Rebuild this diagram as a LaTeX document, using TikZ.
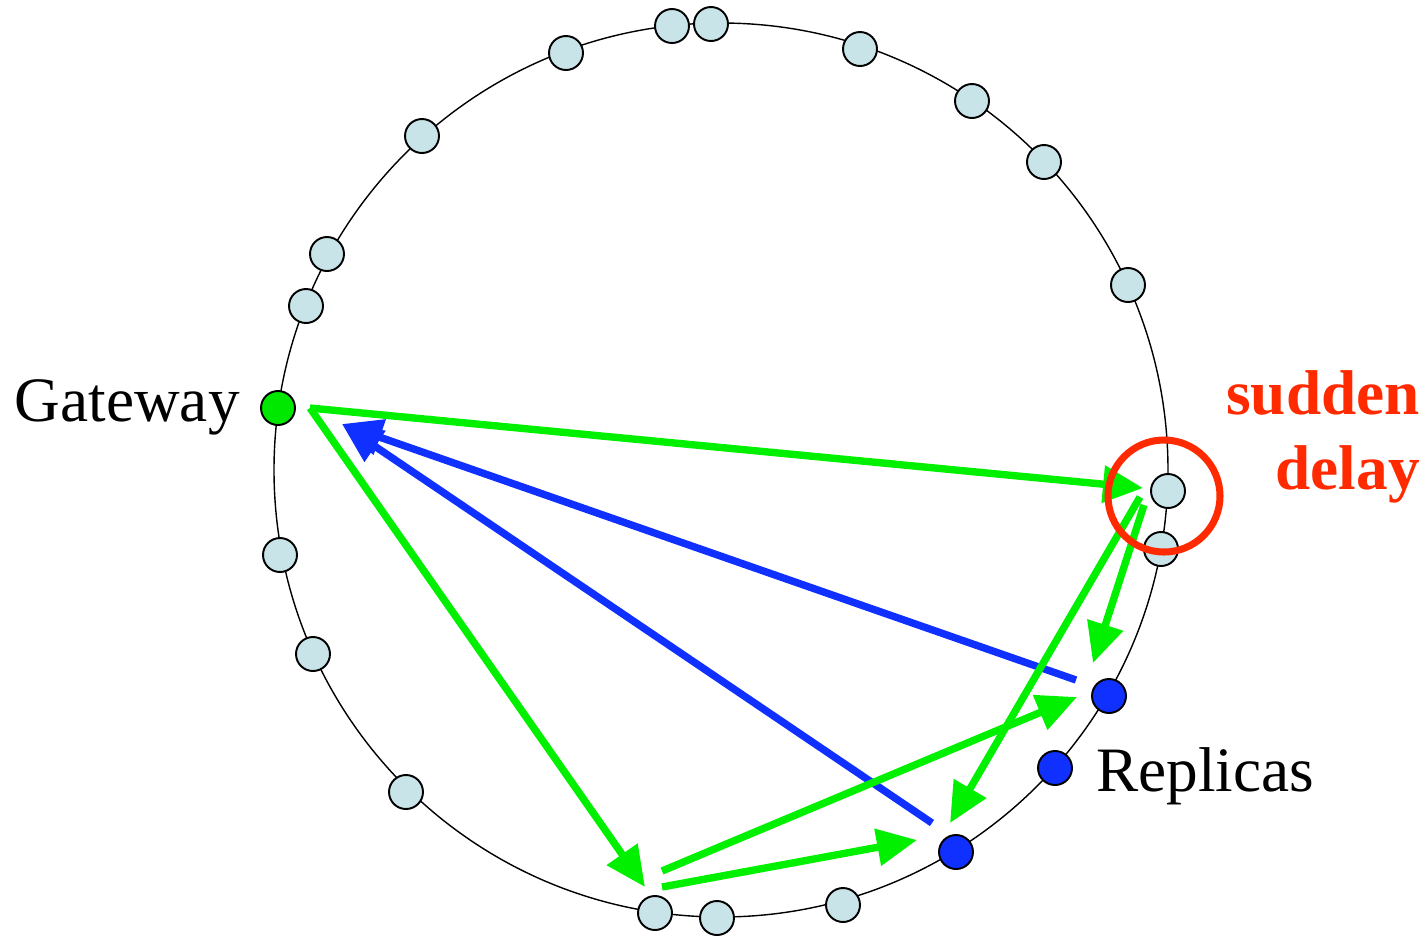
\documentclass[tikz,border=0pt]{standalone}
\usepackage{fontspec}
\setmainfont{Liberation Serif}
\usetikzlibrary{arrows.meta,calc}

\definecolor{peerfill}{RGB}{200,228,232}
\definecolor{replblue}{RGB}{16,48,255}
\definecolor{gwgreen}{RGB}{0,232,0}
\definecolor{linkgreen}{RGB}{0,240,0}
\definecolor{alertred}{RGB}{255,42,0}

\begin{document}
\begin{tikzpicture}[x=0.02cm,y=-0.02cm,
    peer/.style={circle,draw,line width=1.1pt,fill=peerfill,minimum size=0.68cm,inner sep=0pt},
    replica/.style={peer,fill=replblue},
    req/.style={draw=linkgreen,line width=4.2pt,-{Triangle[length=0.8cm,width=0.72cm]}},
    resp/.style={req,draw=replblue},
    lbl/.style={font=\fontsize{36}{43}\selectfont,inner sep=0pt},
    alert/.style={lbl,font=\fontsize{36}{43}\selectfont\bfseries,text=alertred}]
    \useasboundingbox (0,0) rectangle (1428,938);
    % the ring
    \draw[line width=0.8pt] (721,470) circle (447);
    \foreach \x/\y [count=\i] in {672/26,711/24,566/53,860/49,972/101,422/136,1044/162,327/254,
      306/306,1128/285,1161/549,280/555,313/654,406/792,843/905,717/918}
    \node[peer] (p\i) at (\x,\y) {};
    \node[peer] (dly) at (1168,491) {};
    \node[peer] (bot) at (655,913) {};
    \node[peer,fill=gwgreen] (gw) at (278,408) {};
    \node[replica] (r1) at (1109,696) {};
    \node[replica] (r2) at (1055,768) {};
    \node[replica] (r3) at (956,852) {};
    % replies
    \draw[resp] ($(r1)+(-33,-16)$) -- ($(gw)+(64,16)$);
    \draw[resp] ($(r3)+(-24,-29)$) -- ($(gw)+(64,16)$);
    % requests
    \draw[req] ($(gw)+(32,0)$) -- ($(dly)+(-25,-3)$);
    \draw[req] ($(gw)+(32,0)$) -- ($(bot)+(-10,-26)$);
    \draw[req] ($(dly)+(-24,14)$) -- ($(r1)+(-16,-33)$);
    \draw[req] ($(dly)+(-28,6)$) -- ($(r3)+(-6,-29)$);
    \draw[req] ($(bot)+(7,-42)$) -- ($(r1)+(-32,1)$);
    \draw[req] ($(bot)+(7,-26)$) -- ($(r3)+(-39,-12)$);
    \draw[alertred,line width=4pt] (1164,496) circle (56);
    % labels
    \node[lbl,anchor=base east] (gwlbl) at (240,421) {Gateway};
    \node[lbl,anchor=base west] (replbl) at (1096,791) {Replicas};
    \node[alert,anchor=base east] (sudlbl) at (1420,414) {sudden};
    \node[alert,anchor=base east] (dellbl) at (1420,489) {delay};
\end{tikzpicture}
\end{document}
